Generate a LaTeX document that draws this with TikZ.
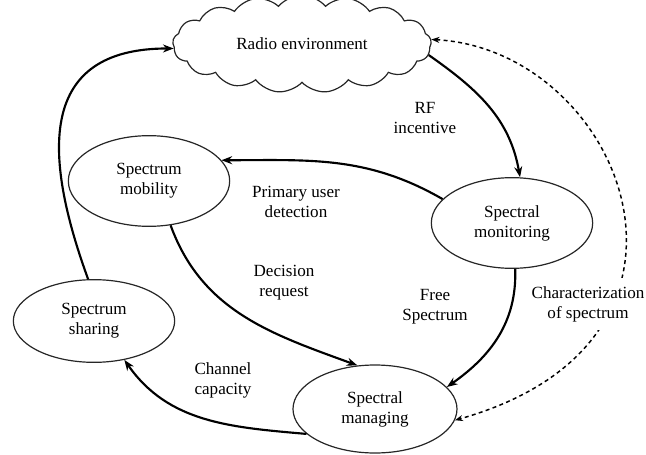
\documentclass[tikz,border=0pt]{standalone}
\usepackage{fontspec}
\setmainfont{Liberation Serif}
\usetikzlibrary{shapes.geometric, shapes.symbols, arrows.meta}

\begin{document}
\begin{tikzpicture}[x=0.75pt, y=0.75pt,
    font=\fontsize{12.8}{15}\selectfont,
    stage/.style={ellipse, draw=black!85, line width=0.9pt, align=center,
        minimum width=121pt, minimum height=68pt, inner sep=0pt},
    flow/.style={-{Stealth[length=8pt, width=6pt]}, line width=1.6pt},
    lbl/.style={align=center, inner sep=1pt}]
\useasboundingbox (0,0) rectangle (646,454);

\node[cloud, draw=black!85, line width=0.9pt, cloud puffs=17,
    cloud puff arc=100, aspect=3.6, minimum width=194pt,
    minimum height=73pt, inner sep=0pt] (radio) at (302,410)
    {Radio environment};
\node[stage] (mobility) at (149,273) {Spectrum\\mobility};
\node[stage, minimum height=62pt] (sharing) at (94,133) {Spectrum\\sharing};
\node[stage] (monitor) at (512,231) {Spectral\\monitoring};
\node[stage, minimum width=123pt, minimum height=66pt] (manage) at (375,45)
    {Spectral\\managing};

\draw[flow] (radio.-5) to[out=-35, in=100] (monitor.80);
\draw[flow] (monitor.161) to[out=150, in=0] (mobility.16);
\draw[flow] (mobility.-64) to[out=-70, in=160] (manage.112);
\draw[flow] (monitor.-86) to[out=-88, in=35] (manage.17);
\draw[flow] (manage.200) to[out=175, in=-55] (sharing.-52);
\draw[flow] (sharing.98) to[out=110, in=180, looseness=1.4] (radio.182);
\draw[{Stealth[length=6pt, width=4.5pt]}-{Stealth[length=6pt, width=4.5pt]},
    line width=1.1pt, dash pattern=on 3pt off 2.5pt]
    (radio.2) .. controls +(190,-10) and +(285,80) .. (manage.-8);

\node[lbl] (rf) at (425,336) {RF\\incentive};
\node[lbl] (primary) at (296,252) {Primary user\\detection};
\node[lbl] (decision) at (284,171) {Decision\\request};
\node[lbl] (free) at (435,147) {Free\\Spectrum};
\node[lbl] (channel) at (223,74) {Channel\\capacity};
\node[lbl, fill=white, inner sep=6pt] (charact) at (588,150)
    {Characterization\\of spectrum};
\end{tikzpicture}
\end{document}
